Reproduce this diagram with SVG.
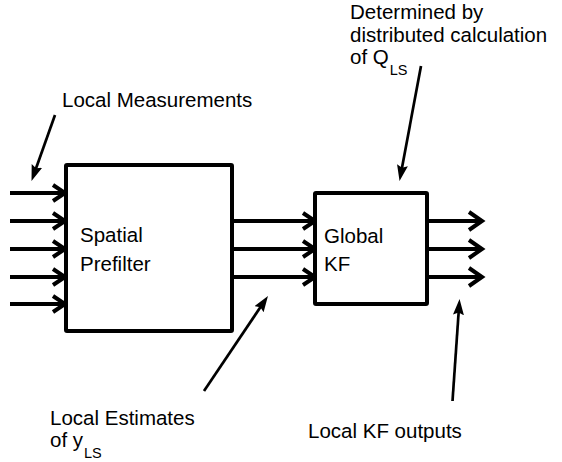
<svg xmlns="http://www.w3.org/2000/svg" width="562" height="462" viewBox="0 0 562 462">
<style>
.box{fill:#fff;stroke:#000;stroke-width:4;stroke-linejoin:round}
.flow{stroke:#000;stroke-width:4;fill:none}
.chev{stroke:#000;stroke-width:4;fill:none;stroke-linejoin:miter;stroke-linecap:butt}
.lead{stroke:#000;stroke-width:2.7;fill:none}
text{font-family:"Liberation Sans",Arial,sans-serif;font-size:20.5px;fill:#000}
.sub{font-size:14.5px}
</style>
<defs>
<marker id="ah" markerUnits="userSpaceOnUse" markerWidth="18" markerHeight="12" refX="8" refY="5.5" orient="auto" viewBox="0 0 18 12">
<path d="M0,0 L16,5.5 L0,11 L2.5,5.5 z" fill="#000"/>
</marker>
</defs>
<g id="connectors">
<line class="flow" x1="10" y1="193" x2="64" y2="193"/>
<line class="flow" x1="10" y1="221" x2="64" y2="221"/>
<line class="flow" x1="10" y1="249" x2="64" y2="249"/>
<line class="flow" x1="10" y1="277" x2="64" y2="277"/>
<line class="flow" x1="10" y1="304" x2="64" y2="304"/>
<polyline class="chev" points="53,185 65,193 53,201"/>
<polyline class="chev" points="53,213 65,221 53,229"/>
<polyline class="chev" points="53,241 65,249 53,257"/>
<polyline class="chev" points="53,269 65,277 53,285"/>
<polyline class="chev" points="53,296 65,304 53,312"/>
<line class="flow" x1="232" y1="221" x2="314" y2="221"/>
<line class="flow" x1="232" y1="249" x2="314" y2="249"/>
<line class="flow" x1="232" y1="277" x2="314" y2="277"/>
<polyline class="chev" points="303,213 315,221 303,229"/>
<polyline class="chev" points="303,241 315,249 303,257"/>
<polyline class="chev" points="303,269 315,277 303,285"/>
<line class="flow" x1="427" y1="221" x2="481" y2="221"/>
<line class="flow" x1="427" y1="249" x2="481" y2="249"/>
<line class="flow" x1="427" y1="277" x2="481" y2="277"/>
<polyline class="chev" points="469,212 482,221 469,230"/>
<polyline class="chev" points="469,240 482,249 469,258"/>
<polyline class="chev" points="469,268 482,277 469,286"/>
<line class="lead" x1="55" y1="115" x2="34.2" y2="173.5" marker-end="url(#ah)"/>
<line class="lead" x1="421" y1="66" x2="401" y2="173.1" marker-end="url(#ah)"/>
<line class="lead" x1="204" y1="391" x2="263.5" y2="302.6" marker-end="url(#ah)"/>
<line class="lead" x1="452.5" y1="401" x2="459" y2="307" marker-end="url(#ah)"/>
</g>
<g id="spatial-prefilter">
<rect class="box" x="66" y="165" width="166" height="166" rx="1"/>
<text x="80" y="242">Spatial</text>
<text x="80" y="271">Prefilter</text>
</g>
<g id="global-kf">
<rect class="box" x="315" y="193" width="112" height="111" rx="1"/>
<text x="324" y="242.5">Global</text>
<text x="324" y="271">KF</text>
</g>
<g id="label-local-measurements">
<text x="62" y="107">Local Measurements</text>
</g>
<g id="label-determined">
<text x="350" y="19">Determined by</text>
<text x="350" y="42">distributed calculation</text>
<text x="350" y="64">of Q<tspan class="sub" dx="1" dy="11">LS</tspan></text>
</g>
<g id="label-local-estimates">
<text x="50" y="425">Local Estimates</text>
<text x="50" y="447">of y<tspan class="sub" dx="1" dy="11">LS</tspan></text>
</g>
<g id="label-local-kf-outputs">
<text x="308" y="438">Local KF outputs</text>
</g>
</svg>
